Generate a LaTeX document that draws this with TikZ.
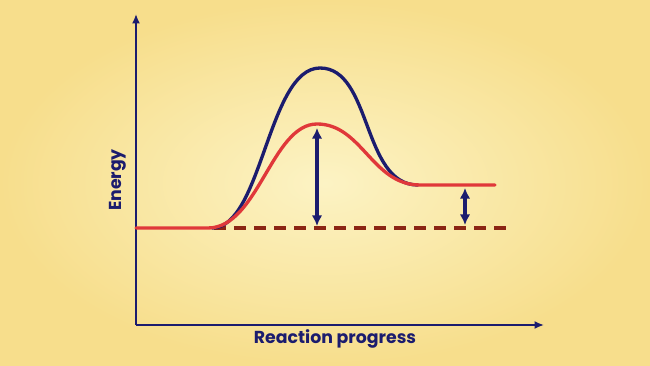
\documentclass[tikz,border=0pt]{standalone}
\usepackage{fontspec}
\setmainfont{Poppins}
\usetikzlibrary{arrows.meta}
\definecolor{navy}{HTML}{1B1C6E}
\definecolor{cred}{HTML}{E0383A}
\definecolor{dred}{HTML}{8B2514}
\definecolor{bgin}{HTML}{FCF3C4}
\definecolor{bgout}{HTML}{F7DE8C}
\begin{document}
\begin{tikzpicture}[x=0.75pt,y=-0.75pt,
  axis/.style={navy,line width=1.6pt,-{Latex[length=7pt,width=6pt]}},
  curve/.style={line width=2.5pt,line cap=round},
  dbl/.style={navy,line width=2.4pt,{Latex[length=8pt,width=8pt]}-{Latex[length=8pt,width=8pt]}},
  lbl/.style={navy,font=\bfseries\fontsize{13}{15}\selectfont}]
\useasboundingbox (0,0) rectangle (650,366);
\shade[inner color=bgin,outer color=bgout] (0,0) rectangle (650,366);
\coordinate (O) at (136,325);
\coordinate (ytip) at (136,14);
\coordinate (xtip) at (544,325);
\draw[axis] (O) -- (ytip);
\draw[axis] (O) -- (xtip);
\node[lbl,rotate=90] (ylab) at (118,180) {Energy};
\node[lbl] (xlab) at (335,339) {Reaction progress};
% dashed baseline
\coordinate (d0) at (214,228);
\coordinate (d1) at (507,228);
\draw[dred,line width=2.4pt,dash pattern=on 9pt off 6pt] (d0) -- (d1);
% blue curve
\draw[curve,navy] (212,228) .. controls (262,228) and (268,68) .. (320,68)
  .. controls (372,68) and (362,185) .. (418,185);
% red curve
\draw[curve,cred] (136,228) -- (208,228) .. controls (258,228) and (272,124) .. (317,124)
  .. controls (362,124) and (372,185) .. (420,185) -- (495,185);
% arrows
\coordinate (a1t) at (317,128);
\coordinate (a1b) at (317,226);
\draw[dbl] (a1b) -- (a1t);
\coordinate (a2t) at (465,188);
\coordinate (a2b) at (465,225);
\draw[dbl] (a2b) -- (a2t);
\end{tikzpicture}
\end{document}
